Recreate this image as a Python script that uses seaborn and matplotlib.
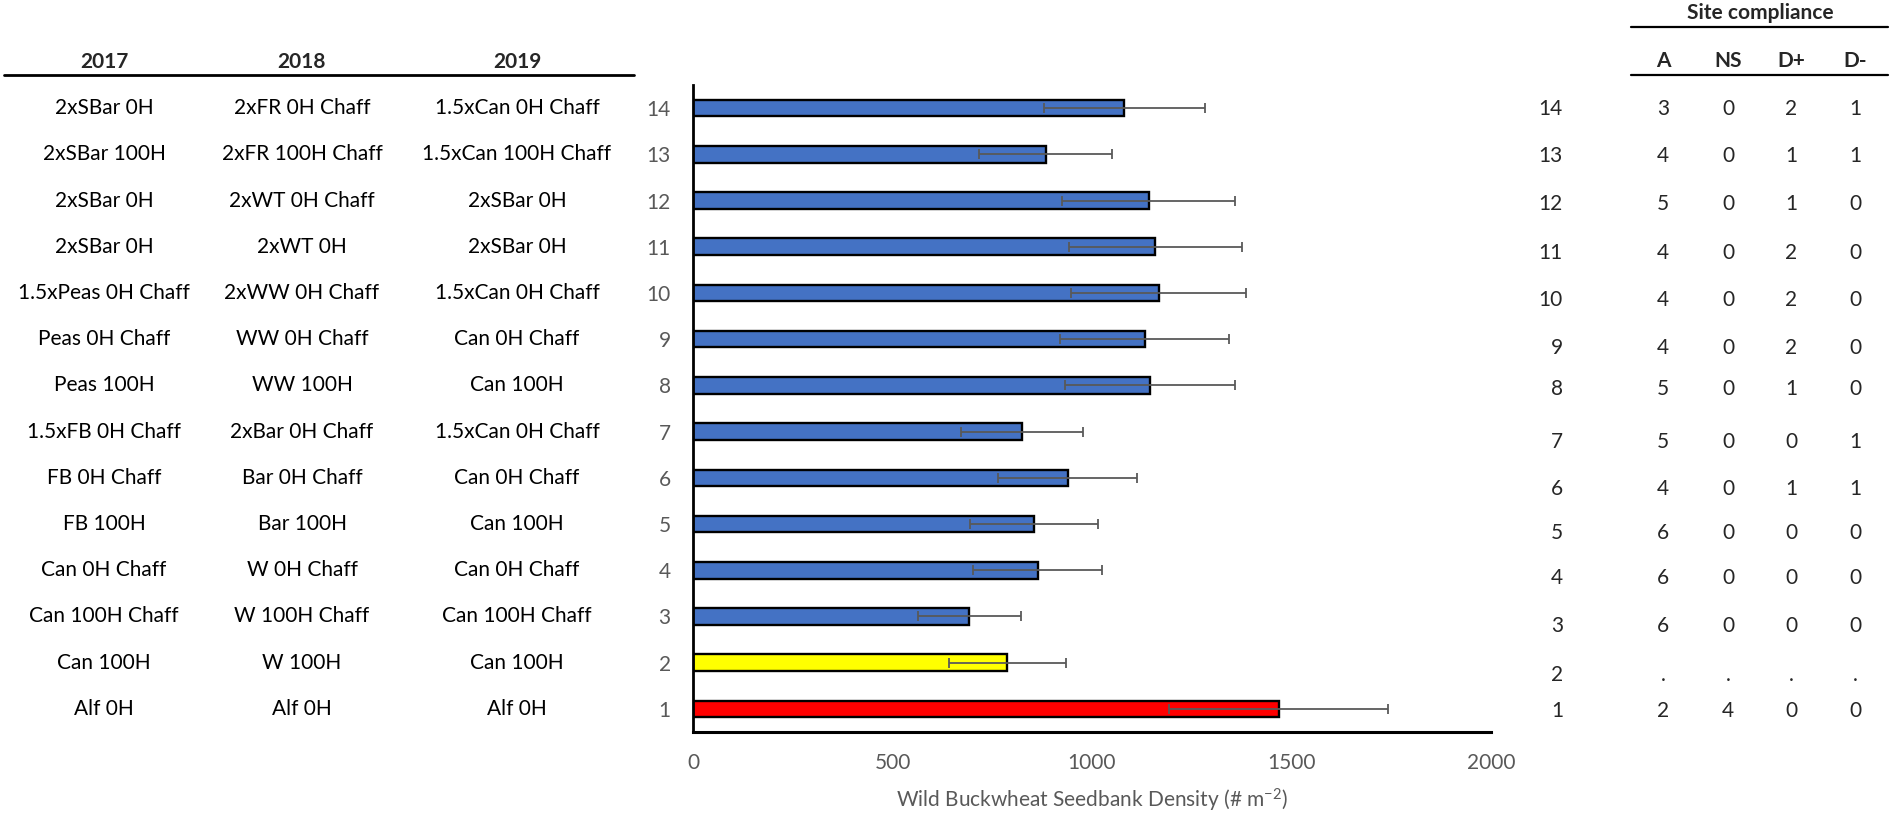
import numpy as np
import matplotlib
matplotlib.use("Agg")
import matplotlib.pyplot as plt
import matplotlib.transforms as mtransforms
from matplotlib.lines import Line2D
import pandas as pd
import seaborn as sns

# rows listed top (14) to bottom (1)
rows = ["14", "13", "12", "11", "10", "9", "8", "7", "6", "5", "4", "3", "2", "1"]
trt_2017 = ["2xSBar 0H", "2xSBar 100H", "2xSBar 0H", "2xSBar 0H", "1.5xPeas 0H Chaff",
            "Peas 0H Chaff", "Peas 100H", "1.5xFB 0H Chaff", "FB 0H Chaff", "FB 100H",
            "Can 0H Chaff", "Can 100H Chaff", "Can 100H", "Alf 0H"]
trt_2018 = ["2xFR 0H Chaff", "2xFR 100H Chaff", "2xWT 0H Chaff", "2xWT 0H", "2xWW 0H Chaff",
            "WW 0H Chaff", "WW 100H", "2xBar 0H Chaff", "Bar 0H Chaff", "Bar 100H",
            "W 0H Chaff", "W 100H Chaff", "W 100H", "Alf 0H"]
trt_2019 = ["1.5xCan 0H Chaff", "1.5xCan 100H Chaff", "2xSBar 0H", "2xSBar 0H", "1.5xCan 0H Chaff",
            "Can 0H Chaff", "Can 100H", "1.5xCan 0H Chaff", "Can 0H Chaff", "Can 100H",
            "Can 0H Chaff", "Can 100H Chaff", "Can 100H", "Alf 0H"]
density = [1081, 884, 1142, 1159, 1167, 1132, 1145, 824, 939, 854, 864, 692, 788, 1468]
density_se = [201, 166, 216, 217, 219, 211, 213, 153, 175, 160, 162, 129, 147, 275]
bar_group = ["blue"] * 12 + ["yellow", "red"]
comp_a = ["3", "4", "5", "4", "4", "4", "5", "5", "4", "6", "6", "6", ".", "2"]
comp_ns = ["0", "0", "0", "0", "0", "0", "0", "0", "0", "0", "0", "0", ".", "4"]
comp_dplus = ["2", "1", "1", "2", "2", "2", "1", "0", "1", "0", "0", "0", ".", "0"]
comp_dminus = ["1", "1", "0", "0", "0", "0", "0", "1", "1", "0", "0", "0", ".", "0"]
comp_cols = ["A", "NS", "D+", "D-"]
years = ["2017", "2018", "2019"]

group_colors = {"blue": "#4472C4", "yellow": "#FFFF00", "red": "#FF0000"}

W, H = 1891, 819


def fx(x):
    return x / W


def fy(y):
    return 1 - y / H


sns.set_theme(style="white")
plt.rcParams["font.family"] = ["Lato", "DejaVu Sans"]
plt.rcParams["mathtext.fontset"] = "custom"
plt.rcParams["mathtext.rm"] = "Lato"
plt.rcParams["mathtext.it"] = "Lato:italic"

gray = "#595959"
fs = 15

df = pd.DataFrame({"row": rows, "density": density, "se": density_se, "group": bar_group})

fig = plt.figure(figsize=(W / 100, H / 100), dpi=100)
ax = fig.add_axes([fx(693), fy(732), (1491 - 693) / W, (732 - 85) / H])

sns.barplot(data=df, x="density", y="row", order=rows, hue="group", palette=group_colors,
            orient="h", width=0.36, edgecolor="black", linewidth=1.7, legend=False,
            errorbar=None, saturation=1, ax=ax)
ypos = np.arange(len(rows))
ax.errorbar(df["density"], ypos, xerr=df["se"], fmt="none", ecolor=gray,
            elinewidth=1.3, capsize=3.3, capthick=1.3, zorder=5)

ax.set_xlim(0, 2000)
ax.set_ylim(len(rows) - 0.5, -0.5)
ax.set_xticks([0, 500, 1000, 1500, 2000])
ax.tick_params(axis="both", length=0, labelsize=fs, colors=gray)
ax.tick_params(axis="x", pad=15)
ax.tick_params(axis="y", pad=16)
ax.set_ylabel("")
ax.set_xlabel(r"Wild Buckwheat Seedbank Density (# m$^{-2}$)", fontsize=fs, color=gray, labelpad=10)
for side in ["top", "right"]:
    ax.spines[side].set_visible(False)
ax.spines["left"].set_linewidth(2)
ax.spines["bottom"].set_linewidth(2.2)
ax.spines["left"].set_color("black")
ax.spines["bottom"].set_color("black")

# treatment table on the left
trans = mtransforms.blended_transform_factory(fig.transFigure, ax.transData)
col_x = [104, 302, 517]
for cx, yr, labels in zip(col_x, years, [trt_2017, trt_2018, trt_2019]):
    fig.text(fx(cx), fy(62), yr, ha="center", va="center", fontsize=fs, fontweight="bold")
    for i, lab in enumerate(labels):
        ax.text(fx(cx), i, lab, transform=trans, ha="center", va="center", fontsize=fs,
                color="black")
fig.add_artist(Line2D([fx(4), fx(634)], [fy(75), fy(75)], transform=fig.transFigure,
                      color="black", lw=2))

# site compliance table on the right
row_y = [109, 156, 204, 253, 300, 348, 389, 442, 489, 533, 578, 626, 675, 711]
val_x = [1663, 1728, 1791, 1855]
fig.text(fx(1760), fy(13), "Site compliance", ha="center", va="center", fontsize=fs,
         fontweight="bold")
fig.add_artist(Line2D([fx(1631), fx(1888)], [fy(27), fy(27)], transform=fig.transFigure,
                      color="black", lw=1.6))
fig.add_artist(Line2D([fx(1631), fx(1888)], [fy(75), fy(75)], transform=fig.transFigure,
                      color="black", lw=1.6))
for vx, name in zip(val_x, comp_cols):
    fig.text(fx(vx), fy(61), name, ha="center", va="center", fontsize=fs, fontweight="bold")
for i, ry in enumerate(row_y):
    fig.text(fx(1563), fy(ry), rows[i], ha="right", va="center", fontsize=fs)
    for vx, col in zip(val_x, [comp_a, comp_ns, comp_dplus, comp_dminus]):
        fig.text(fx(vx), fy(ry), col[i], ha="center", va="center", fontsize=fs)

fig.savefig("out.png", dpi=100, facecolor="white")
